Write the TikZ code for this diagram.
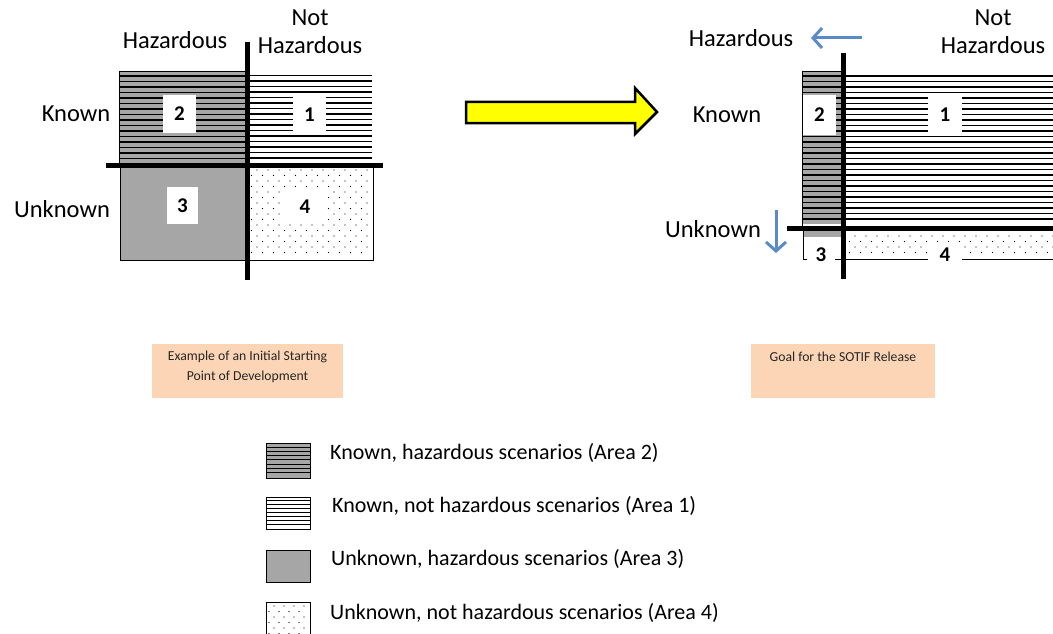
\documentclass[tikz,border=0pt]{standalone}
\usepackage{fontspec}
\setmainfont{Carlito}
\usetikzlibrary{arrows.meta}
\definecolor{hgray}{HTML}{A6A6A6}
\definecolor{peach}{HTML}{FBD5B5}
\definecolor{arrowblue}{HTML}{5B8BC7}
\definecolor{yel}{HTML}{FFFF00}
\begin{document}
\begin{tikzpicture}[x=1pt,y=-1pt,
  lbl/.style={font=\fontsize{24.5}{28}\selectfont, inner sep=0, align=center},
  legtext/.style={font=\fontsize{22}{24}\selectfont, inner sep=0, anchor=west},
  numbox/.style={fill=white, inner sep=0, font=\bfseries\fontsize{21}{22}\selectfont},
  hatch/.style={line width=1.1pt, draw=black},
  bar/.style={line width=5pt, draw=black},
  frame/.style={line width=1pt, draw=black},
  dotfill/.style={fill=black},
  peachbox/.style={fill=peach, inner sep=0},
  capt/.style={font=\fontsize{13.7}{20}\selectfont, text=black!85, align=center, inner sep=0},
  bluearrow/.style={line width=3pt, draw=arrowblue, -{Straight Barb[length=9pt,width=20pt]}}]
\useasboundingbox (0,0) rectangle (1053,634);

% ---------------- left diagram ----------------
% area 2
\fill[hgray] (119,72) rectangle (246,163);
\draw[frame] (119,163) -- (119,72) -- (246,72);
\foreach \y in {76,81.5,...,162} \draw[hatch] (119,\y) -- (246,\y);
% area 1
\foreach \y in {75.5,81,...,161} \draw[hatch] (250,\y) -- (372,\y);
% area 3
\filldraw[fill=hgray, frame] (120,165) rectangle (246,260);
% area 4
\draw[frame] (248,165) rectangle (373,260);
\foreach \r in {0,...,15} {
  \pgfmathsetmacro{\yy}{170+5.5*\r}
  \pgfmathsetmacro{\xo}{mod(\r,2)==0 ? 257 : 251.5}
  \foreach \c in {0,...,10} {
    \fill[dotfill] ({\xo+11*\c},\yy) circle (0.65);
  }
}
% bars
\draw[bar] (106,165) -- (383,165);
\draw[bar] (247,42) -- (247,280);
% number boxes
\node[numbox, minimum width=33, minimum height=38] (n2L) at (179.5,114) {2};
\node[numbox, minimum width=33, minimum height=38] (n1L) at (309.5,115) {1};
\node[numbox, minimum width=31, minimum height=37] (n3L) at (182.5,205.5) {3};
\node[numbox, minimum width=44, minimum height=33] (n4L) at (305,206.5) {4};
% labels
\node[lbl] (hazL) at (175,40) {Hazardous};
\node[lbl] (nhazL) at (310,32) {Not\\Hazardous};
\node[lbl] (knL) at (76,114) {Known};
\node[lbl] (unkL) at (62,209) {Unknown};

% ---------------- big arrow ----------------
\filldraw[fill=yel, draw=black, line width=2.5pt, line join=miter]
  (466,102) -- (635,102) -- (635,88) -- (657,112) -- (635,134) -- (635,123) -- (466,123) -- cycle;

% ---------------- right diagram ----------------
\fill[hgray] (802,72) rectangle (842,224);
\draw[frame] (802,226) -- (802,72) -- (842,72);
\foreach \y in {76,81.5,...,223} \draw[hatch] (802,\y) -- (842,\y);
\foreach \y in {76,81.5,...,223} \draw[hatch] (846,\y) -- (1053,\y);
% area 3 and 4
\fill[hgray] (803,231) rectangle (842,237);
\draw[frame] (803,230) -- (803,259) -- (1053,259);
\foreach \r in {0,...,3} {
  \pgfmathsetmacro{\yy}{236+5.5*\r}
  \pgfmathsetmacro{\xo}{mod(\r,2)==0 ? 855 : 849.5}
  \foreach \c in {0,...,18} {
    \fill[dotfill] ({\xo+11*\c},\yy) circle (0.65);
  }
}
% bars
\draw[bar] (787,228) -- (1053,228);
\draw[bar] (843,53) -- (843,279);
% number boxes
\node[numbox, minimum width=33, minimum height=40] (n2R) at (819.5,115) {2};
\node[numbox, minimum width=34, minimum height=38] (n1R) at (945,115) {1};
\node[numbox, minimum width=28, minimum height=22] (n3R) at (821,255) {3};
\node[numbox, minimum width=34, minimum height=22] (n4R) at (945,255) {4};
% labels
\node[lbl] (hazR) at (741,38) {Hazardous};
\node[lbl] (nhazR) at (993,32) {Not\\Hazardous};
\node[lbl] (knR) at (727,115) {Known};
\node[lbl] (unkR) at (713,229) {Unknown};
% blue arrows
\coordinate (ha1) at (862,38);
\coordinate (ha2) at (811,38);
\draw[bluearrow] (ha1) -- (ha2);
\coordinate (ua1) at (776,210);
\coordinate (ua2) at (776,253);
\draw[bluearrow] (ua1) -- (ua2);

% ---------------- captions ----------------
\node[peachbox, minimum width=191, minimum height=54] (capL) at (247.5,371) {};
\node[capt] (capLt) at (247.5,367) {Example of an Initial Starting\\Point of Development};
\node[peachbox, minimum width=184, minimum height=54] (capR) at (843,371) {};
\node[capt] (capRt) at (843,357) {Goal for the SOTIF Release};

% ---------------- legend ----------------
\fill[hgray] (266,443) rectangle (310,478);
\foreach \y in {447,451.3,...,476} \draw[line width=0.9pt] (266,\y) -- (310,\y);
\draw[frame] (266,443) rectangle (310,478);
\foreach \y in {500.5,504.5,...,527} \draw[line width=0.9pt] (266,\y) -- (310,\y);
\draw[frame] (266,497) rectangle (310,529);
\filldraw[fill=hgray, frame] (266,550) rectangle (310,582);
\draw[frame] (266,640) -- (266,602) -- (310,602) -- (310,640);
\foreach \r in {0,...,6} {
  \pgfmathsetmacro{\yy}{606+5.5*\r}
  \pgfmathsetmacro{\xo}{mod(\r,2)==0 ? 274 : 269}
  \foreach \c in {0,...,3} {
    \fill[dotfill] ({\xo+10*\c},\yy) circle (0.6);
  }
}
\node[legtext] (lg1) at (330,453) {Known, hazardous scenarios (Area 2)};
\node[legtext] (lg2) at (332,506) {Known, not hazardous scenarios (Area 1)};
\node[legtext] (lg3) at (331,559) {Unknown, hazardous scenarios (Area 3)};
\node[legtext] (lg4) at (330,613) {Unknown, not hazardous scenarios (Area 4)};
\end{tikzpicture}
\end{document}
